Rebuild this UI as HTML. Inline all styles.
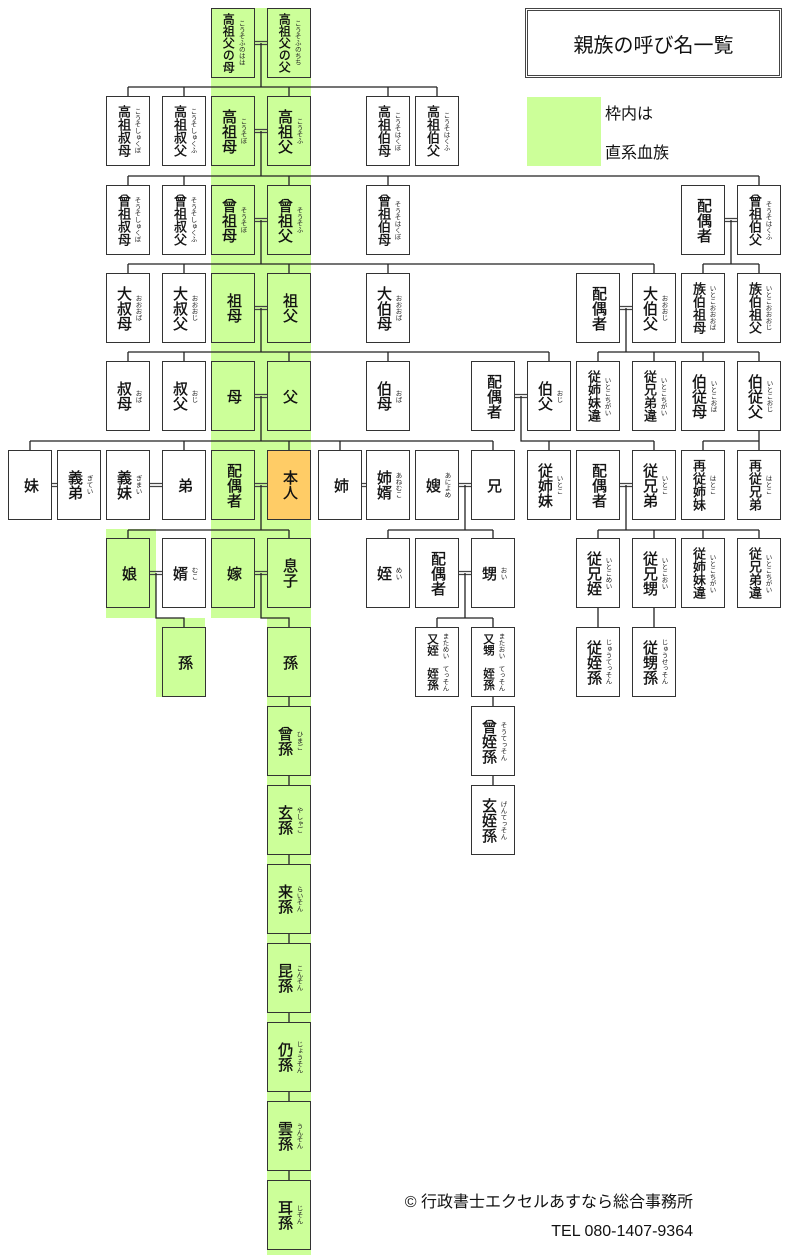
<!DOCTYPE html>
<html><head><meta charset="utf-8">
<style>
*{margin:0;padding:0;box-sizing:border-box}
body{width:810px;height:1260px;background:#fff;position:relative;overflow:hidden;font-family:"Liberation Sans","Noto Sans CJK JP",sans-serif;color:#111}
.band{position:absolute;background:#ccff99}
.b{position:absolute;width:44px;height:70px;border:1.5px solid #333;background:#fff;display:flex;align-items:center;justify-content:center;gap:3px}
.g{background:#ccff99}
.o{background:#ffcc66}
.m{writing-mode:vertical-rl;font-size:15px;line-height:16px;font-weight:normal;-webkit-text-stroke:0.35px #111}
.s .m{font-size:13px;line-height:14px}
.f{writing-mode:vertical-rl;font-size:6.5px;line-height:7px;color:#222}
svg{position:absolute;left:0;top:0}
.title{position:absolute;left:525px;top:8px;width:257px;height:70px;border:3px double #444;display:flex;align-items:center;justify-content:center;font-size:20px}
.leg{position:absolute;left:527px;top:97px;width:74px;height:69px;background:#ccff99}
.lt{position:absolute;left:605px;font-size:16px}
.foot{position:absolute;right:117px;font-size:16px;white-space:nowrap}
</style></head><body>
<div class="band" style="left:211px;top:8px;width:100px;height:610px"></div>
<div class="band" style="left:267px;top:610px;width:44px;height:645px"></div>
<div class="band" style="left:106px;top:529px;width:50px;height:89px"></div>
<div class="band" style="left:156px;top:618px;width:49px;height:79px"></div>

<svg width="810" height="1260" fill="none" stroke="#222" stroke-width="1.3">
<g stroke="#444" stroke-width="1.2">
<path d="M255 41.5H267M255 44.5H267"/>
<path d="M255 129.5H267M255 132.5H267"/>
<path d="M255 218.5H267M255 221.5H267M725 218.5H737M725 221.5H737"/>
<path d="M255 306.5H267M255 309.5H267M620 306.5H632M620 309.5H632"/>
<path d="M255 394.5H267M255 397.5H267M515 394.5H527M515 397.5H527"/>
<path d="M52 483.5H57M52 486.5H57M150 483.5H162M150 486.5H162M255 483.5H267M255 486.5H267M362 483.5H366M362 486.5H366M459 483.5H471M459 486.5H471M620 483.5H632M620 486.5H632"/>
<path d="M150 571.5H162M150 574.5H162M255 571.5H267M255 574.5H267M459 571.5H471M459 574.5H471"/>
</g>
<path d="M261 43V87M128 87H437M128 87V96M184 87V96M289 87V96M388 87V96M437 87V96"/>
<path d="M261 131V176M128 176H759M128 176V185M184 176V185M289 176V185M388 176V185M759 176V185"/>
<path d="M261 220V264M128 264H654M128 264V273M184 264V273M289 264V273M388 264V273M654 264V273"/>
<path d="M731 220V264M703 264H759M703 264V273M759 264V273"/>
<path d="M261 308V352M128 352H549M128 352V361M184 352V361M289 352V361M388 352V361M549 352V361"/>
<path d="M626 308V352M598 352H759M598 352V361M654 352V361M703 352V361M759 352V361"/>
<path d="M261 396V441M30 441H493M30 441V450M184 441V450M289 441V450M340 441V450M493 441V450"/>
<path d="M521 396V441H654M549 441V450M654 441V450"/>
<path d="M759 431V441M703 441H759M703 441V450M759 441V450"/>
<path d="M261 485V530M128 530H289M128 530V538M289 530V538"/>
<path d="M465 485V530M388 530H493M388 530V538M493 530V538"/>
<path d="M626 485V530M598 530H759M598 530V538M654 530V538M703 530V538M759 530V538"/>
<path d="M156 573V618H184V627M261 573V618H289V627M465 573V618M437 618H493M437 618V627M493 618V627"/>
<path d="M598 608V627M654 608V627"/>
<path d="M289 697V706M289 776V785M289 855V864M289 934V943M289 1013V1022M289 1092V1101M289 1171V1180"/>
<path d="M493 697V706M493 776V785"/>
</svg>

<div class="title">親族の呼び名一覧</div>
<div class="leg"></div>
<div class="lt" style="top:100px">枠内は</div>
<div class="lt" style="top:139px">直系血族</div>

<div class="b g s" style="left:211px;top:8px"><span class="m" style="font-size:12px;line-height:12.5px">高祖父の母</span><span class="f">こうそふのはは</span></div>
<div class="b g s" style="left:267px;top:8px"><span class="m" style="font-size:12px;line-height:12.5px">高祖父の父</span><span class="f">こうそふのちち</span></div>
<div class="b s" style="left:106px;top:96px"><span class="m">高祖叔母</span><span class="f">こうそしゅくぼ</span></div>
<div class="b s" style="left:162px;top:96px"><span class="m">高祖叔父</span><span class="f">こうそしゅくふ</span></div>
<div class="b g" style="left:211px;top:96px"><span class="m">高祖母</span><span class="f">こうそぼ</span></div>
<div class="b g" style="left:267px;top:96px"><span class="m">高祖父</span><span class="f">こうそふ</span></div>
<div class="b s" style="left:366px;top:96px"><span class="m">高祖伯母</span><span class="f">こうそはくぼ</span></div>
<div class="b s" style="left:415px;top:96px"><span class="m">高祖伯父</span><span class="f">こうそはくふ</span></div>
<div class="b s" style="left:106px;top:185px"><span class="m">曾祖叔母</span><span class="f">そうそしゅくぼ</span></div>
<div class="b s" style="left:162px;top:185px"><span class="m">曾祖叔父</span><span class="f">そうそしゅくふ</span></div>
<div class="b g" style="left:211px;top:185px"><span class="m">曾祖母</span><span class="f">そうそぼ</span></div>
<div class="b g" style="left:267px;top:185px"><span class="m">曾祖父</span><span class="f">そうそふ</span></div>
<div class="b s" style="left:366px;top:185px"><span class="m">曾祖伯母</span><span class="f">そうそはくぼ</span></div>
<div class="b" style="left:681px;top:185px"><span class="m">配偶者</span></div>
<div class="b s" style="left:737px;top:185px"><span class="m">曾祖伯父</span><span class="f">そうそはくふ</span></div>
<div class="b" style="left:106px;top:273px"><span class="m">大叔母</span><span class="f">おおおば</span></div>
<div class="b" style="left:162px;top:273px"><span class="m">大叔父</span><span class="f">おおおじ</span></div>
<div class="b g" style="left:211px;top:273px"><span class="m">祖母</span></div>
<div class="b g" style="left:267px;top:273px"><span class="m">祖父</span></div>
<div class="b" style="left:366px;top:273px"><span class="m">大伯母</span><span class="f">おおおば</span></div>
<div class="b" style="left:576px;top:273px"><span class="m">配偶者</span></div>
<div class="b" style="left:632px;top:273px"><span class="m">大伯父</span><span class="f">おおおじ</span></div>
<div class="b s" style="left:681px;top:273px"><span class="m">族伯祖母</span><span class="f">いとこおおおば</span></div>
<div class="b s" style="left:737px;top:273px"><span class="m">族伯祖父</span><span class="f">いとこおおおじ</span></div>
<div class="b" style="left:106px;top:361px"><span class="m">叔母</span><span class="f">おば</span></div>
<div class="b" style="left:162px;top:361px"><span class="m">叔父</span><span class="f">おじ</span></div>
<div class="b g" style="left:211px;top:361px"><span class="m">母</span></div>
<div class="b g" style="left:267px;top:361px"><span class="m">父</span></div>
<div class="b" style="left:366px;top:361px"><span class="m">伯母</span><span class="f">おば</span></div>
<div class="b" style="left:471px;top:361px"><span class="m">配偶者</span></div>
<div class="b" style="left:527px;top:361px"><span class="m">伯父</span><span class="f">おじ</span></div>
<div class="b s" style="left:576px;top:361px"><span class="m">従姉妹違</span><span class="f">いとこちがい</span></div>
<div class="b s" style="left:632px;top:361px"><span class="m">従兄弟違</span><span class="f">いとこちがい</span></div>
<div class="b" style="left:681px;top:361px"><span class="m">伯従母</span><span class="f">いとこおば</span></div>
<div class="b" style="left:737px;top:361px"><span class="m">伯従父</span><span class="f">いとこおじ</span></div>
<div class="b" style="left:8px;top:450px"><span class="m">妹</span></div>
<div class="b" style="left:57px;top:450px"><span class="m">義弟</span><span class="f">ぎてい</span></div>
<div class="b" style="left:106px;top:450px"><span class="m">義妹</span><span class="f">ぎまい</span></div>
<div class="b" style="left:162px;top:450px"><span class="m">弟</span></div>
<div class="b g" style="left:211px;top:450px"><span class="m">配偶者</span></div>
<div class="b o" style="left:267px;top:450px"><span class="m">本人</span></div>
<div class="b" style="left:318px;top:450px"><span class="m">姉</span></div>
<div class="b" style="left:366px;top:450px"><span class="m">姉婿</span><span class="f">あねむこ</span></div>
<div class="b" style="left:415px;top:450px"><span class="m">嫂</span><span class="f">あによめ</span></div>
<div class="b" style="left:471px;top:450px"><span class="m">兄</span></div>
<div class="b" style="left:527px;top:450px"><span class="m">従姉妹</span><span class="f">いとこ</span></div>
<div class="b" style="left:576px;top:450px"><span class="m">配偶者</span></div>
<div class="b" style="left:632px;top:450px"><span class="m">従兄弟</span><span class="f">いとこ</span></div>
<div class="b s" style="left:681px;top:450px"><span class="m">再従姉妹</span><span class="f">はとこ</span></div>
<div class="b s" style="left:737px;top:450px"><span class="m">再従兄弟</span><span class="f">はとこ</span></div>
<div class="b g" style="left:106px;top:538px"><span class="m">娘</span></div>
<div class="b" style="left:162px;top:538px"><span class="m">婿</span><span class="f">むこ</span></div>
<div class="b g" style="left:211px;top:538px"><span class="m">嫁</span></div>
<div class="b g" style="left:267px;top:538px"><span class="m">息子</span></div>
<div class="b" style="left:366px;top:538px"><span class="m">姪</span><span class="f">めい</span></div>
<div class="b" style="left:415px;top:538px"><span class="m">配偶者</span></div>
<div class="b" style="left:471px;top:538px"><span class="m">甥</span><span class="f">おい</span></div>
<div class="b" style="left:576px;top:538px"><span class="m">従兄姪</span><span class="f">いとこめい</span></div>
<div class="b" style="left:632px;top:538px"><span class="m">従兄甥</span><span class="f">いとこおい</span></div>
<div class="b s" style="left:681px;top:538px"><span class="m">従姉妹違</span><span class="f">いとこちがい</span></div>
<div class="b s" style="left:737px;top:538px"><span class="m">従兄弟違</span><span class="f">いとこちがい</span></div>
<div class="b g" style="left:162px;top:627px"><span class="m">孫</span></div>
<div class="b g" style="left:267px;top:627px"><span class="m">孫</span></div>
<div class="b s" style="left:415px;top:627px"><span class="m" style="font-size:11.5px;line-height:12px">又姪　姪孫</span><span class="f">まためい　てっそん</span></div>
<div class="b s" style="left:471px;top:627px"><span class="m" style="font-size:11.5px;line-height:12px">又甥　姪孫</span><span class="f">またおい　てっそん</span></div>
<div class="b" style="left:576px;top:627px"><span class="m">従姪孫</span><span class="f">じゅうてっそん</span></div>
<div class="b" style="left:632px;top:627px"><span class="m">従甥孫</span><span class="f">じゅうせっそん</span></div>
<div class="b g" style="left:267px;top:706px"><span class="m">曾孫</span><span class="f">ひまご</span></div>
<div class="b" style="left:471px;top:706px"><span class="m">曾姪孫</span><span class="f">そうてっそん</span></div>
<div class="b g" style="left:267px;top:785px"><span class="m">玄孫</span><span class="f">やしゃご</span></div>
<div class="b" style="left:471px;top:785px"><span class="m">玄姪孫</span><span class="f">げんてっそん</span></div>
<div class="b g" style="left:267px;top:864px"><span class="m">来孫</span><span class="f">らいそん</span></div>
<div class="b g" style="left:267px;top:943px"><span class="m">昆孫</span><span class="f">こんそん</span></div>
<div class="b g" style="left:267px;top:1022px"><span class="m">仍孫</span><span class="f">じょうそん</span></div>
<div class="b g" style="left:267px;top:1101px"><span class="m">雲孫</span><span class="f">うんそん</span></div>
<div class="b g" style="left:267px;top:1180px"><span class="m">耳孫</span><span class="f">じそん</span></div>

<div class="foot" style="top:1188px">© 行政書士エクセルあすなら総合事務所</div>
<div class="foot" style="top:1223px">TEL 080-1407-9364</div>
</body></html>
